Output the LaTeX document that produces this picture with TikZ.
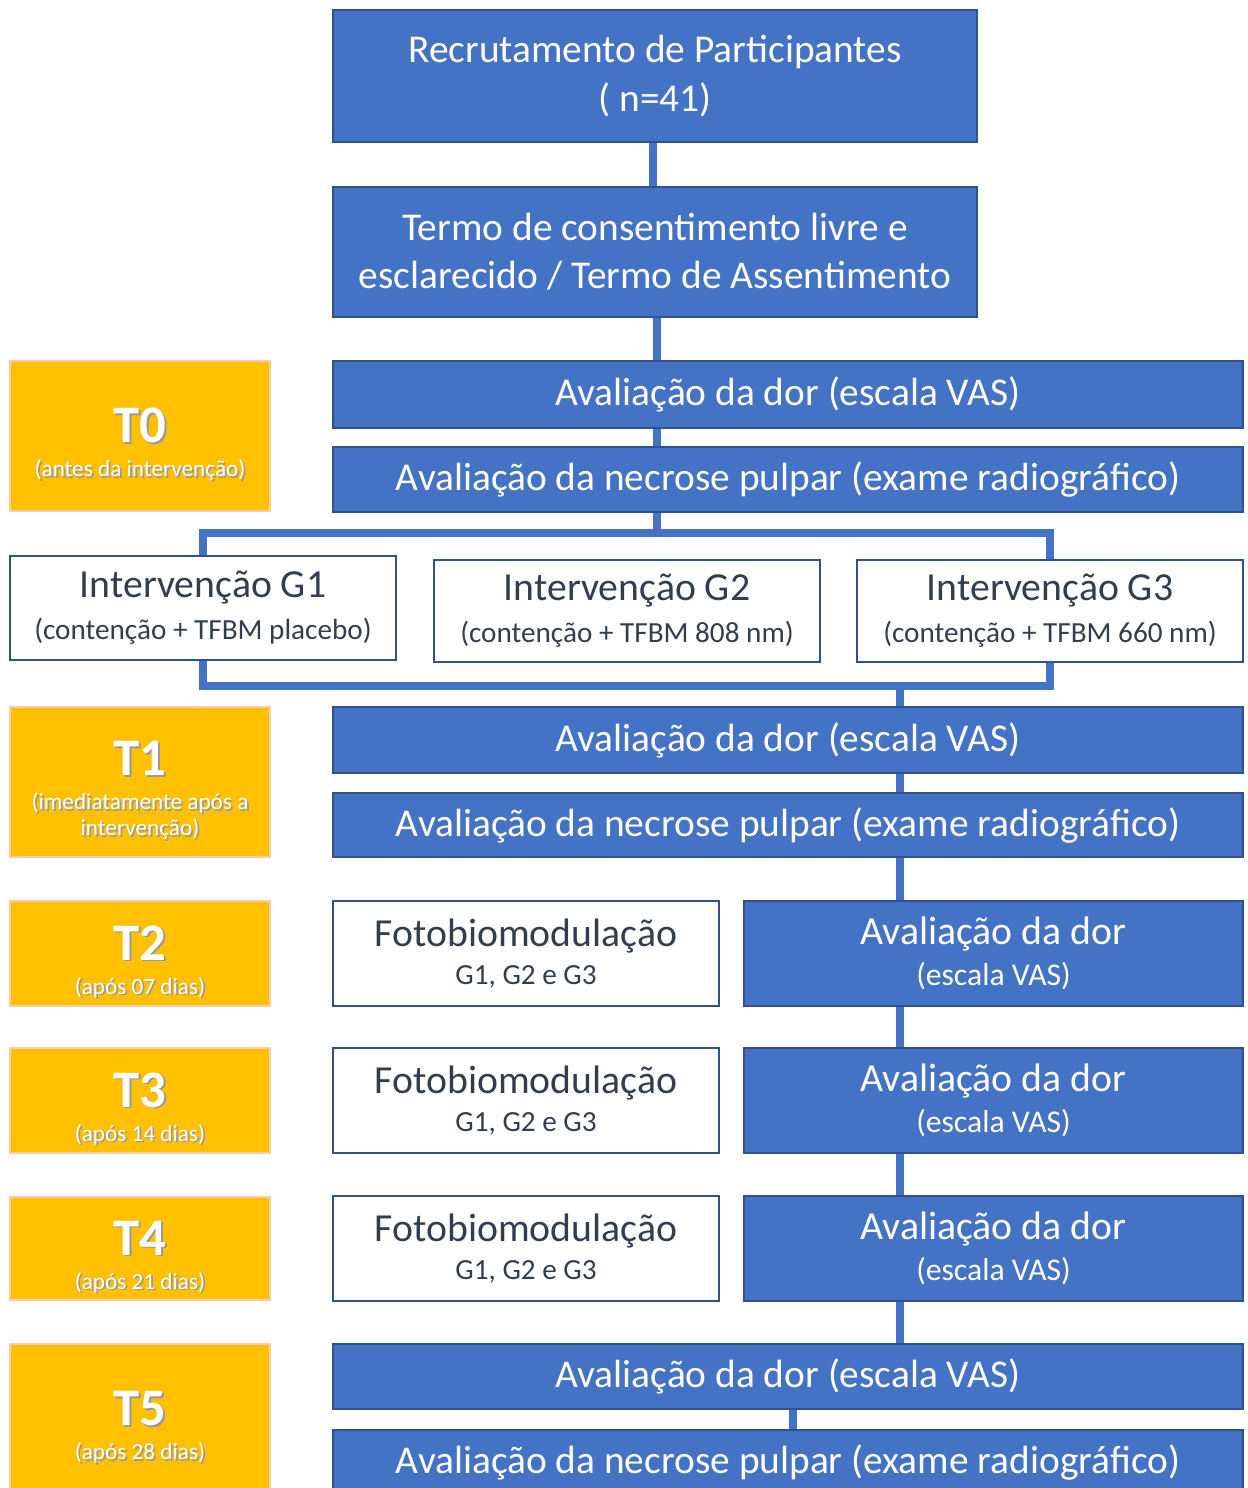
\documentclass[tikz,border=0pt]{standalone}
\usepackage{fontspec}
\setmainfont{Carlito}
\usetikzlibrary{positioning}
\definecolor{blueFill}{RGB}{68,114,196}
\definecolor{blueEdge}{RGB}{47,82,143}
\definecolor{goldFill}{RGB}{255,192,0}
\definecolor{goldEdge}{RGB}{248,203,173}
\definecolor{darkText}{RGB}{50,62,80}
\newcommand\bigtxt{\fontsize{11.2}{13.7}\selectfont}
\newcommand\midtxt{\fontsize{11.3}{13}\selectfont}
\newcommand\subtxt{\fontsize{8.3}{10.8}\selectfont}
\newcommand\vastxt{\fontsize{9}{11.2}\selectfont}
\newcommand\tinytxt{\fontsize{6.6}{9.7}\selectfont}
\newcommand\shadowed[1]{\makebox[0pt][l]{\raisebox{-0.5pt}{\hspace{0.5pt}\textcolor{black!40}{#1}}}#1}
\newcommand\tlabel[1]{\raisebox{0pt}[15pt][0pt]{\fontsize{15}{17}\selectfont\bfseries\shadowed{#1}}}
\tikzset{
  bluebox/.style={draw=blueEdge, fill=blueFill, text=white, line width=0.5pt, inner sep=0pt, align=center, font=\bigtxt},
  whitebox/.style={draw=blueEdge, fill=white, text=darkText, line width=0.7pt, inner sep=0pt, align=center},
  timebox/.style={draw=goldEdge, fill=goldFill, text=white, line width=0.5pt, inner sep=0pt, align=center, minimum width=2.6cm, font=\tinytxt},
  link/.style={draw=blueFill, line width=2.2pt},
}

\begin{document}
\begin{tikzpicture}[x=0.01cm, y=-0.01cm]
  \useasboundingbox (0,0) rectangle (1247,1488);
  \clip (0,0) rectangle (1247,1488);

  % main column
  \node[bluebox, minimum width=6.44cm, minimum height=1.32cm] (rec) at (655,76)
    {Recrutamento de Participantes\\( n=41)};
  \node[bluebox, minimum width=6.44cm, minimum height=1.30cm] (tcle) at (655,252)
    {Termo de consentimento livre e\\esclarecido / Termo de Assentimento};
  \node[bluebox, minimum width=9.10cm, minimum height=0.67cm] (vas0) at (788,394.5)
    {Avaliação da dor (escala VAS)};
  \node[bluebox, minimum width=9.10cm, minimum height=0.65cm] (nec0) at (788,479.5)
    {Avaliação da necrose pulpar (exame radiográfico)};

  % groups
  \node[whitebox, minimum width=3.86cm, minimum height=1.04cm] (g1) at (203,608)
    {\midtxt Intervenção G1\\\subtxt (contenção + TFBM placebo)};
  \node[whitebox, minimum width=3.86cm, minimum height=1.02cm] (g2) at (627,611)
    {\midtxt Intervenção G2\\\subtxt (contenção + TFBM 808 nm)};
  \node[whitebox, minimum width=3.86cm, minimum height=1.02cm] (g3) at (1050,611)
    {\midtxt Intervenção G3\\\subtxt (contenção + TFBM 660 nm)};

  \node[bluebox, minimum width=9.10cm, minimum height=0.66cm] (vas1) at (788,740)
    {Avaliação da dor (escala VAS)};
  \node[bluebox, minimum width=9.10cm, minimum height=0.64cm] (nec1) at (788,825)
    {Avaliação da necrose pulpar (exame radiográfico)};

  % follow-up
  \foreach \n/\y in {2/953.5, 3/1100.5, 4/1248.5} {
    \node[whitebox, minimum width=3.86cm, minimum height=1.05cm] (foto\n) at (526,\y)
      {\midtxt Fotobiomodulação\\[-1pt]\subtxt G1, G2 e G3};
    \node[bluebox, minimum width=4.99cm, minimum height=1.05cm] (vas\n) at (993.5,\y)
      {\midtxt Avaliação da dor\\[-2pt]\vastxt (escala VAS)};
  }

  \node[bluebox, minimum width=9.10cm, minimum height=0.65cm] (vas5) at (788,1376.5)
    {Avaliação da dor (escala VAS)};
  \node[bluebox, minimum width=9.10cm, minimum height=0.65cm] (nec5) at (788,1462.5)
    {Avaliação da necrose pulpar (exame radiográfico)};

  % time points
  \node[timebox, minimum height=1.50cm] (t0) at (140,436)
    {\tlabel{T0}\\\tinytxt\shadowed{(antes da intervenção)}};
  \node[timebox, minimum height=1.50cm] (t1) at (140,782)
    {\tlabel{T1}\\\tinytxt\shadowed{(imediatamente após a}\\[-2.3pt]\tinytxt\shadowed{intervenção)}};
  \node[timebox, minimum height=1.05cm] (t2) at (140,953.5)
    {\tlabel{T2}\\\tinytxt\shadowed{(após 07 dias)}};
  \node[timebox, minimum height=1.05cm] (t3) at (140,1100.5)
    {\tlabel{T3}\\\tinytxt\shadowed{(após 14 dias)}};
  \node[timebox, minimum height=1.03cm] (t4) at (140,1248.5)
    {\tlabel{T4}\\\tinytxt\shadowed{(após 21 dias)}};
  \node[timebox, minimum height=1.50cm] (t5) at (140,1419)
    {\tlabel{T5}\\\tinytxt\shadowed{(após 28 dias)}};

  % connectors
  \coordinate (btop) at (657,533);
  \coordinate (bbot) at (900,686);
  \draw[link] (rec.south -| 653,0) -- (tcle.north -| 653,0);
  \draw[link] (tcle.south -| btop) -- (vas0.north -| btop);
  \draw[link] (vas0.south -| btop) -- (nec0.north -| btop);
  \draw[link] (nec0.south -| btop) -- (btop);
  \draw[link] (g1.north) |- (btop) -| (g3.north);
  \draw[link] (g1.south) |- (bbot) -| (g3.south);
  \draw[link] (bbot) -- (vas1.north -| bbot);
  \draw[link] (vas1.south -| bbot) -- (nec1.north -| bbot);
  \draw[link] (nec1.south -| bbot) -- (vas2.north -| bbot);
  \draw[link] (vas2.south -| bbot) -- (vas3.north -| bbot);
  \draw[link] (vas3.south -| bbot) -- (vas4.north -| bbot);
  \draw[link] (vas4.south -| bbot) -- (vas5.north -| bbot);
  \draw[link] (vas5.south -| 793,0) -- (nec5.north -| 793,0);
\end{tikzpicture}
\end{document}
